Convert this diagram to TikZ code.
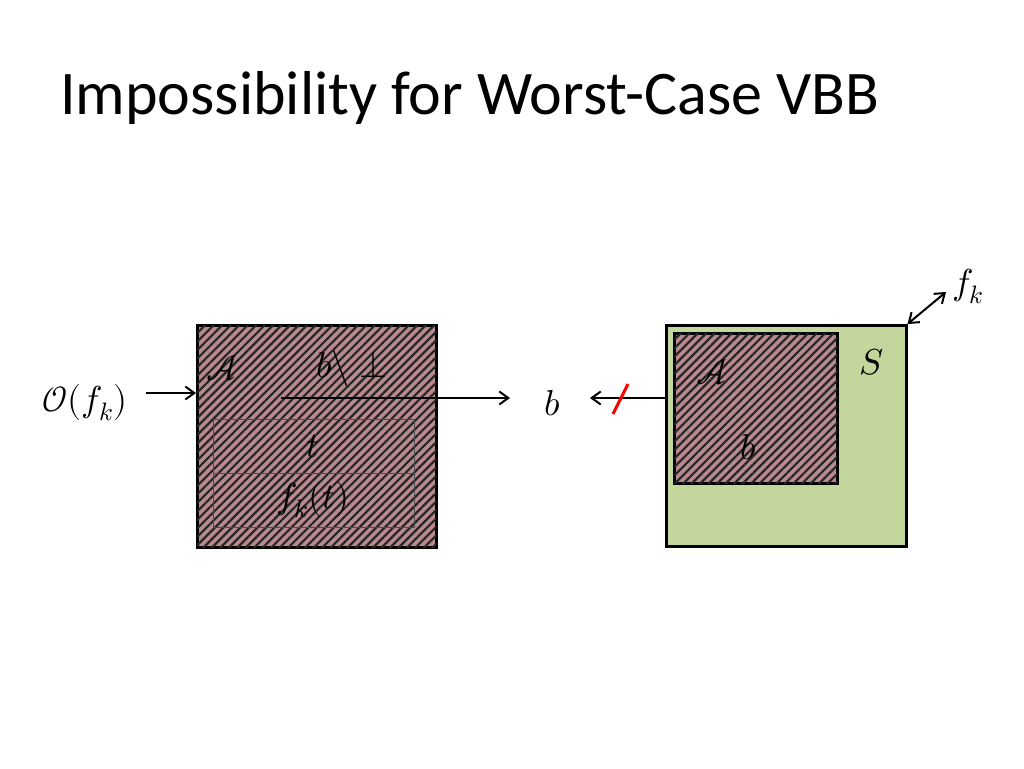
\documentclass[tikz,border=0pt]{standalone}
\usepackage{fontspec}
\usepackage{unicode-math}
\setmainfont{Carlito}
\setmathfont{Latin Modern Math}
\usetikzlibrary{patterns.meta,arrows.meta}
\definecolor{pinkbg}{HTML}{B88A8E}
\definecolor{greenbg}{HTML}{C3D69B}
\tikzset{
 hatch/.style={fill=pinkbg,postaction={pattern={Lines[angle=45,distance=6pt,line width=2.2pt]},pattern color=black!85},draw=black,line width=2.5pt},
 inner/.style={draw=black!70,line width=1pt},
 arr/.style={-{Straight Barb[length=9pt,width=13pt]},line width=2pt},
 lab/.style={font=\fontsize{36}{40}\selectfont,inner sep=0pt}
}
\begin{document}
\begin{tikzpicture}[x=1pt,y=-1pt]
\useasboundingbox (0,0) rectangle (1024,768);
\node[anchor=west,font=\fontsize{62}{70}\selectfont,inner sep=0pt] (title) at (60,98) {Impossibility for Worst-Case VBB};
% left box
\node[hatch,minimum width=239pt,minimum height=222pt,anchor=north west,inner sep=0pt] (L) at (196,324) {};
\node[inner,minimum width=201pt,minimum height=54pt,anchor=north west] (t) at (213,419) {};
\node[inner,minimum width=201pt,minimum height=54pt,anchor=north west] (ft) at (213,473) {};
\node[lab] (LA) at (222,368) {$\mathcal{A}$};
\node[lab] (Lb) at (352,368) {$b\backslash\perp$};
\node[lab] (tl) at (313,446) {$t$};
\node[lab] (ftl) at (313,500) {$f_k(t)$};
\coordinate (s) at (281,398);
\node[lab] (b) at (552,403) {$b$};
\draw[arr] (s) -- (510,398);
\node[lab] (O) at (85,403) {$\mathcal{O}(f_k)$};
\draw[arr] (146,393) -- (196,393);
% right box
\node[draw=black,line width=2.5pt,fill=greenbg,minimum width=240pt,minimum height=221pt,anchor=north west,inner sep=0pt] (R) at (665,324) {};
\node[hatch,minimum width=163pt,minimum height=150pt,anchor=north west,inner sep=0pt] (RA) at (673,332) {};
\node[lab] (RAl) at (712,372) {$\mathcal{A}$};
\node[lab] (Rb) at (748,447) {$b$};
\node[lab] (S) at (872,362) {$S$};
\draw[arr] (R.west |- 0,398) -- (590,398);
\draw[red,line width=3pt] (613,414) -- (628,384);
\node[lab] (fk) at (968,286) {$f_k$};
\draw[{Straight Barb[length=9pt,width=13pt]}-{Straight Barb[length=9pt,width=13pt]},line width=2pt] (R.north east) -- (946,292);
\end{tikzpicture}
\end{document}
